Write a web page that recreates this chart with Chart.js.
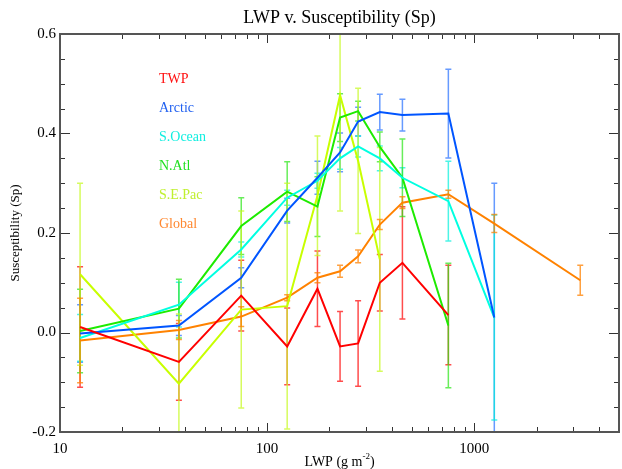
<!DOCTYPE html>
<html>
<head>
<meta charset="utf-8">
<script src="https://cdn.jsdelivr.net/npm/chart.js"></script>
<style>
    body { margin: 0; padding: 0; background: #fff; }
    #wrap { width: 622px; height: 469px; }
</style>
</head>
<body>
<div id="wrap"><canvas id="spChart" width="622" height="469"></canvas></div>
<script>
// LWP bin centres (g m-2)
const lwpBins = [12.5, 37.5, 75, 125, 175, 225, 275, 350, 450, 750, 1250, 3250];

// Susceptibility per region, with the +/- error for each bin
const twpSp = [0.011, -0.059, 0.074, -0.028, 0.088, -0.028, -0.022, 0.100, 0.140, 0.035];
const twpErr = [0.121, 0.077, 0.071, 0.077, 0.076, 0.070, 0.086, 0.057, 0.113, 0.100];
const arcticSp = [-0.002, 0.014, 0.110, 0.245, 0.311, 0.362, 0.424, 0.443, 0.437, 0.440, 0.030];
const arcticErr = [0.058, 0.020, 0.020, 0.025, 0.033, 0.039, 0.029, 0.036, 0.032, 0.089, 0.270];
const soceanSp = [-0.011, 0.056, 0.167, 0.271, 0.305, 0.350, 0.374, 0.350, 0.311, 0.264, 0.030];
const soceanErr = [0.047, 0.045, 0.015, 0.015, 0.015, 0.022, 0.021, 0.025, 0.020, 0.080, 0.206];
const natlSp = [0.003, 0.048, 0.214, 0.283, 0.253, 0.432, 0.445, 0.373, 0.311, 0.014];
const natlErr = [0.084, 0.059, 0.057, 0.060, 0.060, 0.048, 0.020, 0.030, 0.078, 0.125];
const sepacSp = [0.117, -0.103, 0.046, 0.053, 0.275, 0.477, 0.345, 0.147];
const sepacErr = [0.183, 0.140, 0.198, 0.247, 0.120, 0.233, 0.146, 0.225];
const globalSp = [-0.016, 0.005, 0.032, 0.070, 0.110, 0.123, 0.153, 0.217, 0.261, 0.278, 0.219, 0.105];
const globalErr = [0.085, 0.019, 0.020, 0.006, 0.010, 0.012, 0.013, 0.010, 0.012, 0.008, 0.018, 0.030];

const regionNames = ['TWP', 'Arctic', 'S.Ocean', 'N.Atl', 'S.E.Pac', 'Global'];
const regionValues = [twpSp, arcticSp, soceanSp, natlSp, sepacSp, globalSp];
const regionErrors = [twpErr, arcticErr, soceanErr, natlErr, sepacErr, globalErr];
const lineColors = ['rgb(255,0,0)', 'rgb(0,85,255)', 'rgb(0,255,225)', 'rgb(30,235,0)', 'rgb(200,255,0)', 'rgb(255,130,0)'];
const barColors = ['rgba(255,0,0,0.7)', 'rgba(20,100,255,0.65)', 'rgba(0,240,220,0.7)', 'rgba(40,230,20,0.7)', 'rgba(200,250,40,0.75)', 'rgba(255,130,0,0.75)'];
const labelColors = ['#ff1010', '#2060f0', '#10eee0', '#20e020', '#c0f030', '#ff8830'];

const xDecades = [10, 100, 1000];
const yTicks = [-0.2, 0.0, 0.2, 0.4, 0.6];

const SERIF = '"Liberation Serif", "DejaVu Serif", serif';

// Build datasets from the arrays
const datasets = regionNames.map((name, i) => ({
    label: name,
    data: regionValues[i].map((v, j) => ({ x: lwpBins[j], y: v })),
    errors: regionErrors[i],
    barColor: barColors[i],
    borderColor: lineColors[i],
    backgroundColor: lineColors[i],
    borderWidth: 2,
    pointRadius: 0,
    tension: 0,
    clip: 0
}));

// Error bars, box frame with inward ticks, labels and titles
const idlStyle = {
    id: 'idlStyle',
    beforeDatasetsDraw(chart) {
        const ctx = chart.ctx;
        const area = chart.chartArea;
        const xs = chart.scales.x, ys = chart.scales.y;
        ctx.save();
        ctx.beginPath();
        ctx.rect(area.left, area.top, area.right - area.left, area.bottom - area.top);
        ctx.clip();
        chart.data.datasets.forEach(ds => {
            ctx.strokeStyle = ds.barColor;
            ctx.lineWidth = 1.5;
            ds.data.forEach((p, j) => {
                const e = ds.errors[j];
                const px = xs.getPixelForValue(p.x);
                const yTop = ys.getPixelForValue(p.y + e);
                const yBot = ys.getPixelForValue(p.y - e);
                ctx.beginPath();
                ctx.moveTo(px, yTop); ctx.lineTo(px, yBot);
                ctx.moveTo(px - 3, yTop); ctx.lineTo(px + 3, yTop);
                ctx.moveTo(px - 3, yBot); ctx.lineTo(px + 3, yBot);
                ctx.stroke();
            });
        });
        ctx.restore();
    },
    afterDraw(chart) {
        const ctx = chart.ctx;
        const a = chart.chartArea;
        const xs = chart.scales.x, ys = chart.scales.y;
        ctx.save();

        // ticks
        ctx.strokeStyle = '#333';
        ctx.lineWidth = 1;
        ctx.beginPath();
        for (let d = 10; d <= 1000; d *= 10) {
            for (let m = 1; m <= 9; m++) {
                const v = d * m;
                if (v > 5000) break;
                const px = Math.round(xs.getPixelForValue(v)) + 0.5;
                const len = m === 1 ? 9 : 5;
                ctx.moveTo(px, a.bottom); ctx.lineTo(px, a.bottom - len);
                ctx.moveTo(px, a.top); ctx.lineTo(px, a.top + len);
            }
        }
        for (let k = 0; k <= 16; k++) {
            const v = -0.2 + k * 0.05;
            const py = Math.round(ys.getPixelForValue(v)) + 0.5;
            const len = k % 4 === 0 ? 10 : 5;
            ctx.moveTo(a.left, py); ctx.lineTo(a.left + len, py);
            ctx.moveTo(a.right, py); ctx.lineTo(a.right - len, py);
        }
        ctx.stroke();

        // frame
        ctx.strokeStyle = '#555';
        ctx.lineWidth = 2;
        ctx.strokeRect(a.left, a.top, a.right - a.left, a.bottom - a.top);

        // region labels
        ctx.font = '14px ' + SERIF;
        ctx.textAlign = 'left';
        ctx.textBaseline = 'middle';
        regionNames.forEach((name, i) => {
            ctx.fillStyle = labelColors[i];
            ctx.fillText(name, 159, 79 + i * 29);
        });

        // title
        ctx.fillStyle = '#000';
        ctx.textAlign = 'center';
        ctx.font = '18px ' + SERIF;
        ctx.fillText('LWP v. Susceptibility (Sp)', (a.left + a.right) / 2, 18);

        // x title with superscript
        const main = 'LWP (g m';
        ctx.font = '14px ' + SERIF;
        const w1 = ctx.measureText(main).width;
        ctx.font = '9px ' + SERIF;
        const w2 = ctx.measureText('-2').width;
        ctx.font = '14px ' + SERIF;
        const w3 = ctx.measureText(')').width;
        const sx = (a.left + a.right) / 2 - (w1 + w2 + w3) / 2;
        ctx.textAlign = 'left';
        ctx.fillText(main, sx, 462);
        ctx.font = '9px ' + SERIF;
        ctx.fillText('-2', sx + w1, 457);
        ctx.font = '14px ' + SERIF;
        ctx.fillText(')', sx + w1 + w2, 462);

        // y title
        ctx.translate(16, (a.top + a.bottom) / 2);
        ctx.rotate(-Math.PI / 2);
        ctx.textAlign = 'center';
        ctx.font = '13px ' + SERIF;
        ctx.fillText('Susceptibility (Sp)', 0, 0);
        ctx.restore();
    }
};

new Chart(document.getElementById('spChart').getContext('2d'), {
    type: 'line',
    data: { datasets: datasets },
    options: {
        responsive: false,
        animation: false,
        layout: { padding: { left: 0, right: 3, top: 34, bottom: 0 } },
        plugins: {
            legend: { display: false },
            tooltip: { enabled: false }
        },
        scales: {
            x: {
                type: 'logarithmic',
                min: 10,
                max: 5000,
                grid: { display: false, drawTicks: false },
                border: { display: false },
                afterBuildTicks: scale => {
                    scale.ticks = xDecades.map(v => ({ value: v }));
                },
                afterFit: scale => { scale.height = 37; },
                ticks: {
                    autoSkip: false,
                    maxRotation: 0,
                    padding: 8,
                    color: '#000',
                    font: { family: SERIF, size: 15 },
                    callback: v => String(v)
                }
            },
            y: {
                min: -0.2,
                max: 0.6,
                grid: { display: false, drawTicks: false },
                border: { display: false },
                afterBuildTicks: scale => {
                    scale.ticks = yTicks.map(v => ({ value: v }));
                },
                afterFit: scale => { scale.width = 60; },
                ticks: {
                    padding: 4,
                    color: '#000',
                    font: { family: SERIF, size: 15 },
                    callback: v => (Math.abs(v) < 1e-9 ? '0.0' : v.toFixed(1))
                }
            }
        }
    },
    plugins: [idlStyle]
});
</script>
</body>
</html>
